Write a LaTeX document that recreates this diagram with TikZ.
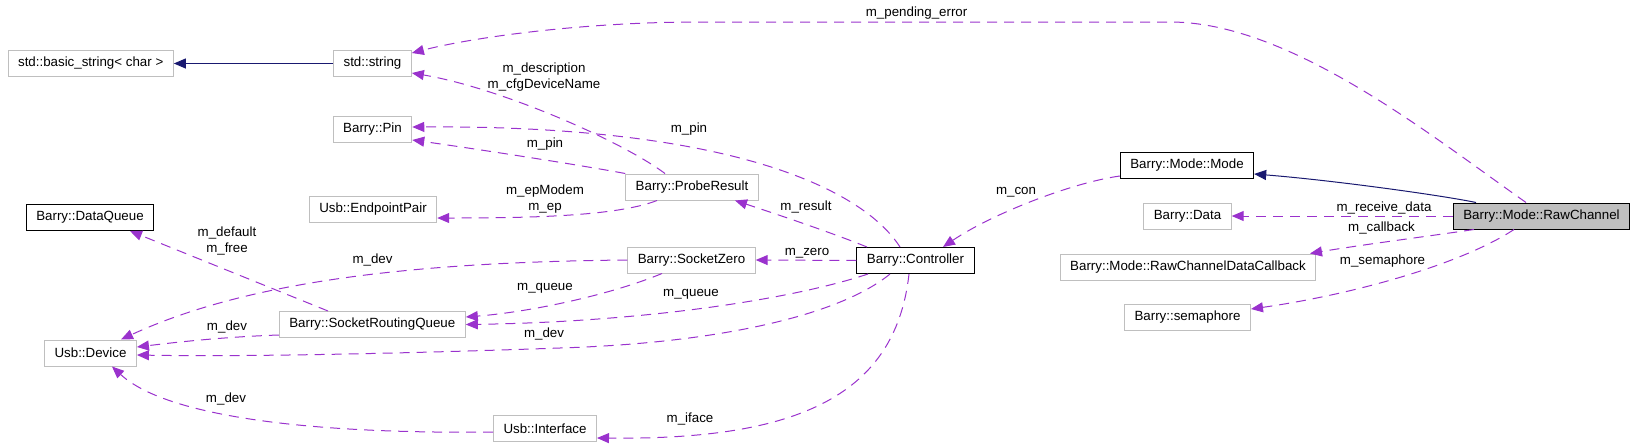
\documentclass[tikz,border=0pt]{standalone}
\usepackage{fontspec}
\setmainfont{Liberation Sans}
\usetikzlibrary{arrows.meta}
\definecolor{edgepurple}{HTML}{9A32CD}
\definecolor{inhblue}{HTML}{191970}
\definecolor{boxgray}{HTML}{BFBFBF}

\begin{document}
\begin{tikzpicture}[x=1pt,y=-1pt,font=\fontsize{13.33}{16}\selectfont,
            cls/.style={draw=boxgray,line width=1pt,inner xsep=10pt,inner ysep=0pt,minimum height=26pt},
            doc/.style={cls,draw=black},
            lbl/.style={inner sep=0pt,text height=9.5pt,text depth=3pt},
            lbltwo/.style={inner sep=0pt,align=center},
            member/.style={edgepurple,line width=1pt,dash pattern=on 10pt off 7pt,-{Triangle[length=12pt,width=10pt]}},
            inh/.style={inhblue,line width=1pt,-{Triangle[length=12pt,width=10pt]}}]
            \useasboundingbox (0,0) rectangle (1632,447);
            \node[cls] (bstr) at (90.7,63.5) {std::basic\_string< char >};
            \node[cls] (str) at (372.5,63.5) {std::string};
            \node[cls] (pin) at (372.5,129) {Barry::Pin};
            \node[cls] (epp) at (373,209) {Usb::EndpointPair};
            \node[doc] (dq) at (90,217.5) {Barry::DataQueue};
            \node[cls] (dev) at (90.5,353) {Usb::Device};
            \node[cls] (srq) at (372.3,324.5) {Barry::SocketRoutingQueue};
            \node[cls] (iface) at (545,428.5) {Usb::Interface};
            \node[cls] (probe) at (692,187) {Barry::ProbeResult};
            \node[cls] (szero) at (691.5,260) {Barry::SocketZero};
            \node[doc] (ctrl) at (915.5,260.5) {Barry::Controller};
            \node[doc] (mode) at (1187,165.5) {Barry::Mode::Mode};
            \node[cls] (data) at (1187.5,216) {Barry::Data};
            \node[cls] (cb) at (1188,267) {Barry::Mode::RawChannelDataCallback};
            \node[cls] (sem) at (1187.5,317) {Barry::semaphore};
            \node[doc,fill=boxgray] (rc) at (1541.5,216) {Barry::Mode::RawChannel};
            \draw[inh] (str.west) -- (bstr.east);
            \draw[inh] ([xshift=-65.5pt]rc.north) .. controls (1440,195) and (1330,180) .. ([yshift=-8.5pt]mode.east);
            \draw[member] ([xshift=-15.5pt]rc.north) .. controls (1430,135) and (1290,22) .. (1170,22) -- (700,22) .. controls (580,22) and (470,38) .. ([yshift=10.5pt]str.east);
            \draw[member] ([xshift=-27pt]probe.north) .. controls (620,140) and (500,88) .. ([yshift=-9.5pt]str.east);
            \draw[member] ([xshift=-15.5pt]ctrl.north) .. controls (860,185) and (720,125) .. ([yshift=2pt]pin.east);
            \draw[member] (probe.north west) .. controls (580,165) and (470,148) .. ([yshift=-11pt]pin.east);
            \draw[member] ([xshift=-35pt]probe.south) .. controls (615,217) and (520,218) .. ([yshift=-9pt]epp.east);
            \draw[member] ([xshift=-48.5pt]ctrl.north) .. controls (830,232) and (770,212) .. ([xshift=43pt]probe.south);
            \draw[member] (ctrl.west) -- (szero.east);
            \draw[member] (szero.west) .. controls (420,262) and (250,280) .. ([xshift=30.5pt]dev.north);
            \draw[member] ([xshift=-29.5pt]szero.south) .. controls (610,295) and (530,312) .. ([yshift=7.5pt]srq.east);
            \draw[member] ([xshift=-47.5pt]ctrl.south) .. controls (790,300) and (640,322) .. (srq.east);
            \draw[member] ([xshift=-25.5pt]ctrl.south) .. controls (840,315) and (720,343) .. (560,348) .. controls (420,353) and (250,357) .. ([yshift=-2pt]dev.east);
            \draw[member] ([yshift=-10.5pt]srq.west) .. controls (220,337) and (170,343) .. ([yshift=6pt]dev.east);
            \draw[member] ([xshift=-44.3pt]srq.north) -- ([xshift=40pt]dq.south);
            \draw[member] ([xshift=-6.5pt]ctrl.south) .. controls (895,400) and (790,440) .. ([yshift=-9.5pt]iface.east);
            \draw[member] ([yshift=-3.5pt]iface.west) .. controls (330,434) and (170,420) .. ([xshift=21.5pt]dev.south);
            \draw[member] ([yshift=-10.5pt]mode.west) .. controls (1070,183) and (990,215) .. ([xshift=27.5pt]ctrl.north);
            \draw[member] (rc.west) -- (data.east);
            \draw[member] ([xshift=-67.5pt]rc.south) .. controls (1430,236) and (1360,245) .. ([xshift=122pt]cb.north);
            \draw[member] ([xshift=-27.5pt]rc.south) .. controls (1460,265) and (1350,295) .. ([yshift=8pt]sem.east);
            \node[lbl] (lpend) at (916.6,13) {m\_pending\_error};
            \node[lbltwo] (ldesc) at (544,77) {m\_description\\m\_cfgDeviceName};
            \node[lbl] (lpinctrl) at (689,129) {m\_pin};
            \node[lbl] (lpinprobe) at (545,144) {m\_pin};
            \node[lbltwo] (lep) at (545,199) {m\_epModem\\m\_ep};
            \node[lbl] (lresult) at (806,207) {m\_result};
            \node[lbl] (lzero) at (807,252) {m\_zero};
            \node[lbltwo] (ldefault) at (227,241) {m\_default\\m\_free};
            \node[lbl] (ldevzero) at (372.5,260) {m\_dev};
            \node[lbl] (lqueuezero) at (545,287) {m\_queue};
            \node[lbl] (lqueuectrl) at (691,293) {m\_queue};
            \node[lbl] (ldevctrl) at (544,334) {m\_dev};
            \node[lbl] (ldevsrq) at (227,327) {m\_dev};
            \node[lbl] (ldeviface) at (226,399) {m\_dev};
            \node[lbl] (liface) at (690,419) {m\_iface};
            \node[lbl] (lcon) at (1016,191) {m\_con};
            \node[lbl] (lrecv) at (1384,208) {m\_receive\_data};
            \node[lbl] (lcb) at (1381.5,228) {m\_callback};
            \node[lbl] (lsem) at (1382.5,261) {m\_semaphore};
\end{tikzpicture}
\end{document}
